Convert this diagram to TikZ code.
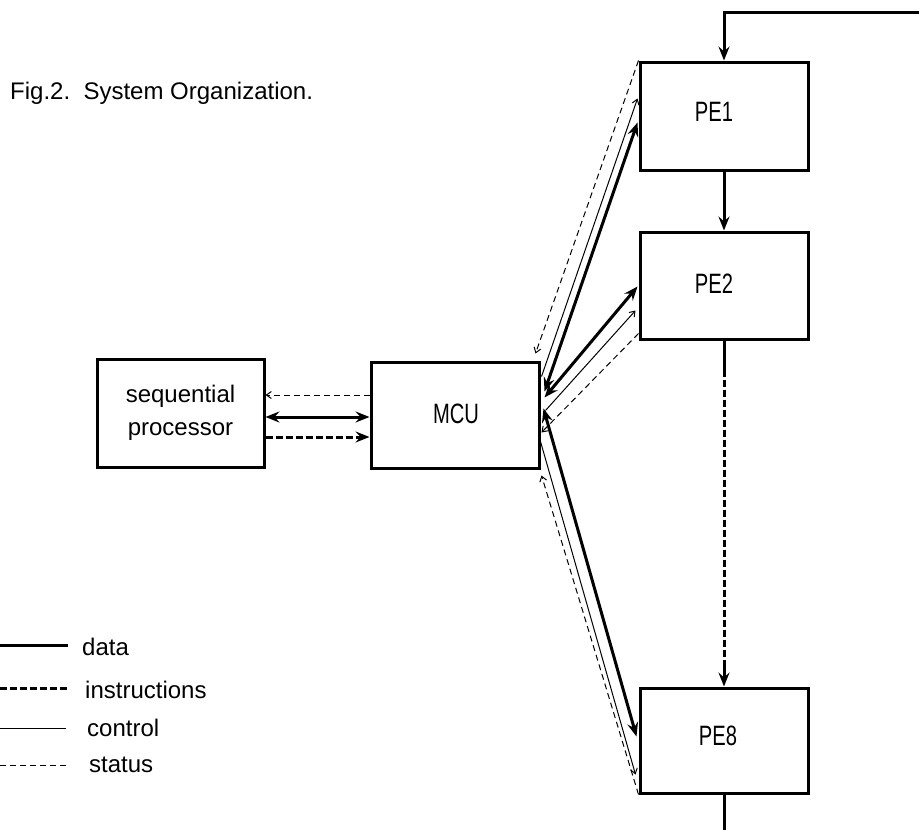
\documentclass[tikz,border=0pt]{standalone}
\usepackage{fontspec}
\setmainfont{Liberation Sans}
\newfontfamily\narrowfont{Liberation Sans}[FakeStretch=0.72]
\usetikzlibrary{arrows.meta,calc}

\tikzset{
  TH/.tip={Stealth[length=14pt,width=11pt,inset=5pt]},
  TN/.tip={Straight Barb[length=5pt,width=7pt,line width=1pt]},
}

\begin{document}
\begin{tikzpicture}[x=1pt,y=-1pt,
  box/.style={draw,line width=3pt,minimum width=168pt,minimum height=107pt,
              inner sep=0pt,align=center,font=\fontsize{24}{33}\selectfont},
  txt/.style={inner sep=0pt,font=\fontsize{24}{33}\selectfont},
  lbl/.style={inner sep=0pt,font=\narrowfont\fontsize{28}{30}\selectfont},
  dataln/.style={line width=3pt},
  instrln/.style={line width=3pt,dash pattern=on 7pt off 3pt},
  ctrlln/.style={line width=1pt},
  statln/.style={line width=1pt,dash pattern=on 6pt off 4pt},
]
\useasboundingbox (0,0) rectangle (919,830);

% caption
\node[txt,anchor=base west] (cap) at (10,99) {Fig.2.\ \ System Organization.};

% blocks
\node[box,minimum width=167pt,minimum height=108pt] (seq) at (180.5,413) {sequential\\processor};
\node[box,minimum height=106pt] (mcu) at (455,415) {};
\node[lbl] (mcut) at (456,414) {MCU};
\node[box,minimum height=108pt] (pe1) at (724,116) {};
\node[box] (pe2) at (724,285.5) {};
\node[box,minimum height=105pt] (pe8) at (724,740.5) {};
\node[lbl] (pe1t) at (714,112) {PE1};
\node[lbl] (pe2t) at (714,284) {PE2};
\node[lbl] (pe8t) at (718,736) {PE8};

% ring of processing elements
\coordinate (ringin) at (919,12);
\coordinate (ringout) at (724,830);
\draw[dataln,-TH] (ringin) -| (pe1.north);
\draw[dataln,-TH] (pe1.south) -- (pe2.north);
\coordinate (gapa) at ($(pe2.south)+(0,29)$);
\coordinate (gapb) at ($(pe8.north)+(0,-21)$);
\draw[dataln] (pe2.south) -- (gapa);
\draw[instrln] (gapa) -- (gapb);
\draw[dataln,-TH] (gapb) -- (pe8.north);
\draw[dataln] (pe8.south) -- (ringout);

% sequential processor <-> MCU
\draw[statln,-TN] ($(mcu.west)+(0,-20)$) -- ($(seq.east)+(0,-18)$);
\draw[dataln,TH-TH] ($(seq.east)+(0,4)$) -- ($(mcu.west)+(0,2)$);
\draw[instrln,-TH] ($(seq.east)+(0,24)$) -- ($(mcu.west)+(0,22)$);

% MCU <-> PE1
\draw[statln,-TN] (pe1.north west) -- ($(mcu.north east)+(-5,-7)$);
\draw[ctrlln,-TN] ($(mcu.north east)+(1,16)$) -- ($(pe1.north west)+(-1,38)$);
\draw[dataln,TH-TH] ($(mcu.north east)+(4,31)$) -- ($(pe1.north west)+(-1,62)$);

% MCU <-> PE2
\draw[dataln,TH-TH] ($(mcu.north east)+(4,37)$) -- ($(pe2.north west)+(-1,56)$);
\draw[ctrlln,-TN] ($(mcu.north east)+(5,50)$) -- ($(pe2.north west)+(-3,80)$);
\draw[statln,-TN] ($(pe2.south west)+(0,-7)$) -- ($(mcu.north east)+(1,72)$);

% MCU <-> PE8
\draw[dataln,TH-TH] ($(mcu.north east)+(3,48)$) -- ($(pe8.north west)+(-2,50)$);
\draw[ctrlln,-TN] ($(mcu.south east)+(0,-28)$) -- ($(pe8.south west)+(-3,-20)$);
\draw[statln,-TN] (pe8.south west) -- ($(mcu.south east)+(1,6)$);

% legend
\coordinate (k1a) at (0,645);  \coordinate (k1b) at (68,645);
\coordinate (k2a) at (0,688);  \coordinate (k2b) at (70,688);
\coordinate (k3a) at (0,728);  \coordinate (k3b) at (66,728);
\coordinate (k4a) at (0,765);  \coordinate (k4b) at (68,765);
\draw[dataln] (k1a) -- (k1b);
\draw[instrln] (k2a) -- (k2b);
\draw[ctrlln] (k3a) -- (k3b);
\draw[statln] (k4a) -- (k4b);
\node[txt,anchor=west] (k1t) at (82,647) {data};
\node[txt,anchor=west] (k2t) at (85,690) {instructions};
\node[txt,anchor=west] (k3t) at (87,728) {control};
\node[txt,anchor=west] (k4t) at (89,765) {status};
\end{tikzpicture}
\end{document}
